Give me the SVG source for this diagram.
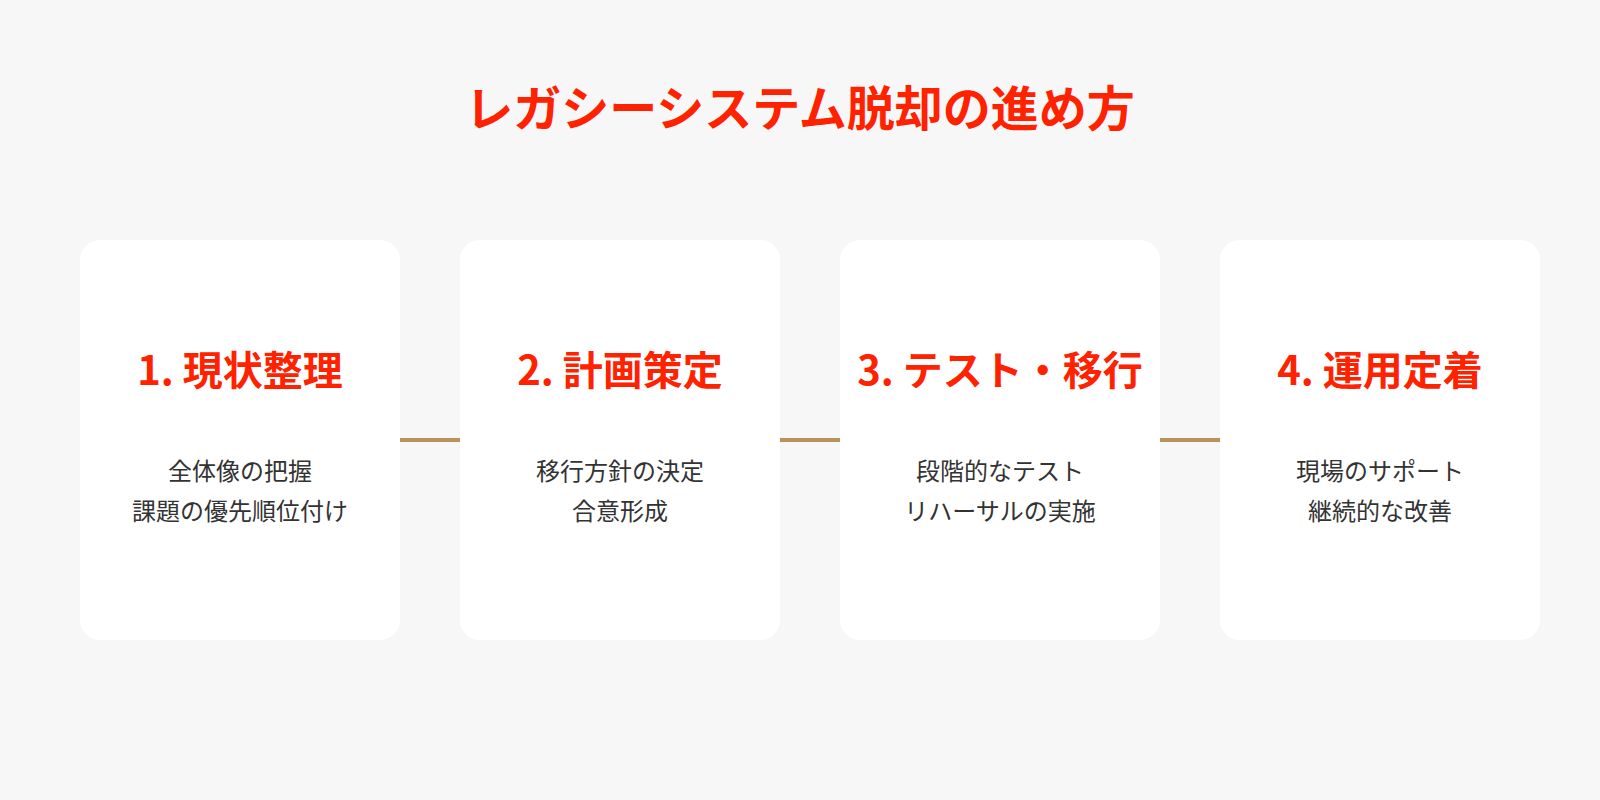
<svg xmlns="http://www.w3.org/2000/svg" width="1600" height="800" viewBox="0 0 1600 800">
<style>
.card{fill:#ffffff;}
.title{font-family:"Noto Sans CJK JP","Noto Sans",sans-serif;font-weight:700;font-size:48px;fill:#ff2200;text-anchor:middle;}
.head{font-family:"Noto Sans CJK JP","Noto Sans",sans-serif;font-weight:700;font-size:40px;fill:#ff2200;text-anchor:middle;}
.desc{font-family:"Noto Sans CJK JP","Noto Sans",sans-serif;font-weight:400;font-size:24px;fill:#333333;text-anchor:middle;}
.conn{stroke:#b8935a;stroke-width:4;fill:none;}
</style>
<rect x="0" y="0" width="1600" height="800" fill="#f7f7f7"/>
<text class="title" x="800" y="126">レガシーシステム脱却の進め方</text>
<g id="connectors">
<line class="conn" x1="400" y1="440" x2="460" y2="440"/>
<line class="conn" x1="780" y1="440" x2="840" y2="440"/>
<line class="conn" x1="1160" y1="440" x2="1220" y2="440"/>
</g>
<g id="step1">
<rect class="card" x="80" y="240" width="320" height="400" rx="20"/>
<text class="head" x="240" y="385">1. 現状整理</text>
<text class="desc" x="240" y="480">全体像の把握</text>
<text class="desc" x="240" y="520">課題の優先順位付け</text>
</g>
<g id="step2">
<rect class="card" x="460" y="240" width="320" height="400" rx="20"/>
<text class="head" x="620" y="385">2. 計画策定</text>
<text class="desc" x="620" y="480">移行方針の決定</text>
<text class="desc" x="620" y="520">合意形成</text>
</g>
<g id="step3">
<rect class="card" x="840" y="240" width="320" height="400" rx="20"/>
<text class="head" x="1000" y="385">3. テスト・移行</text>
<text class="desc" x="1000" y="480">段階的なテスト</text>
<text class="desc" x="1000" y="520">リハーサルの実施</text>
</g>
<g id="step4">
<rect class="card" x="1220" y="240" width="320" height="400" rx="20"/>
<text class="head" x="1380" y="385">4. 運用定着</text>
<text class="desc" x="1380" y="480">現場のサポート</text>
<text class="desc" x="1380" y="520">継続的な改善</text>
</g>
</svg>
